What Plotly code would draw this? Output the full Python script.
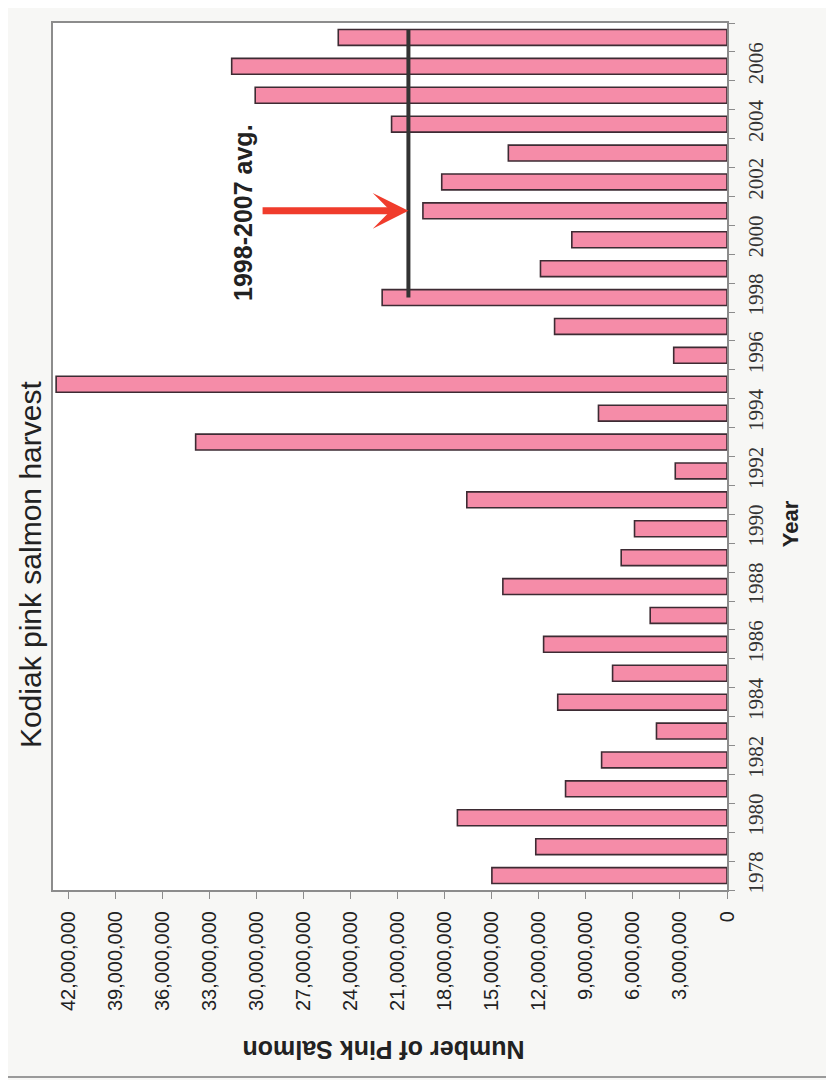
import plotly.graph_objects as go

years = list(range(1978, 2008))
harvest = [15.0e6, 12.2e6, 17.2e6, 10.3e6, 8.0e6, 4.5e6, 10.8e6, 7.3e6, 11.7e6, 4.9e6,
           14.3e6, 6.75e6, 5.9e6, 16.6e6, 3.3e6, 33.9e6, 8.2e6, 42.8e6, 3.4e6, 11.0e6,
           22.0e6, 11.9e6, 9.9e6, 19.4e6, 18.2e6, 13.95e6, 21.4e6, 30.1e6, 31.6e6, 24.8e6]
value_ticks = list(range(0, 42000001, 3000000))
year_ticks = list(range(1978, 2007, 2))
avg_years = [y for y in years if 1998 <= y <= 2007]
avg_value = sum(v for y, v in zip(years, harvest) if 1998 <= y <= 2007) / len(avg_years)

fig = go.Figure()
fig.add_trace(go.Bar(
    y=years, x=harvest, orientation='h', width=0.55,
    marker=dict(color='#F58CA8', line=dict(color='#3d2b33', width=1.6)),
    showlegend=False,
))

fig.update_layout(
    width=834, height=1080,
    margin=dict(l=45, r=115, t=15, b=198),
    paper_bgcolor='#F7F7F5', plot_bgcolor='#FFFFFF',
    font=dict(family='Liberation Sans, Arial', color='#222222'),
)
fig.update_xaxes(
    range=[43000000, 0], tickvals=value_ticks, tickformat=',', tickangle=-90,
    tickfont=dict(size=20, family='Liberation Sans, Arial', color='#222'),
    showline=True, linecolor='#8c8c8c', linewidth=2, mirror=True,
    ticks='outside', ticklen=7, tickcolor='#8c8c8c', ticklabelstandoff=4,
    showgrid=False, zeroline=False,
)
fig.update_yaxes(
    side='right', range=[1977.5, 2007.5], tickvals=year_ticks, tickangle=-90,
    tickfont=dict(size=21, family='Liberation Serif, Times New Roman', color='#333'),
    showline=True, linecolor='#8c8c8c', linewidth=2, mirror=True,
    ticks='', ticklabelstandoff=9, showgrid=False, zeroline=False,
    minor=dict(tick0=1977.5, dtick=1, ticks='outside', ticklen=6, tickcolor='#8c8c8c'),
)

# average line
fig.add_shape(type='line', xref='x', yref='y', x0=avg_value, x1=avg_value,
              y0=avg_years[0], y1=avg_years[-1] + 0.27,
              line=dict(color='#333333', width=4))

# red arrow
fig.add_annotation(x=avg_value, y=2001, xref='x', yref='y',
                   ax=avg_value + 9.4e6, ay=2001, axref='x', ayref='y',
                   showarrow=True, arrowhead=3, arrowsize=0.85, arrowwidth=7,
                   arrowcolor='#F03C2C', text='', standoff=0)

fig.add_annotation(text='<b>1998-2007 avg.</b>', xref='paper', yref='paper', x=0.282, y=0.781,
                   showarrow=False, textangle=-90,
                   font=dict(size=25, family='Liberation Sans, Arial', color='#222'),
                   xanchor='center', yanchor='middle')
fig.add_annotation(text='Kodiak pink salmon harvest', xref='paper', yref='paper',
                   x=-0.034, y=0.376, showarrow=False, textangle=-90,
                   font=dict(size=30, family='Liberation Sans, Arial', color='#222'),
                   xanchor='center', yanchor='middle')
fig.add_annotation(text='<b>Year</b>', xref='paper', yref='paper',
                   x=1.0935, y=0.422, showarrow=False, textangle=-90,
                   font=dict(size=22, family='Liberation Sans, Arial', color='#222'),
                   xanchor='center', yanchor='middle')
fig.add_annotation(text='<b>Number of Pink Salmon</b>', xref='paper', yref='paper',
                   x=0.49, y=-0.1845, showarrow=False, textangle=180,
                   font=dict(size=25, family='Liberation Sans, Arial', color='#222'),
                   xanchor='center', yanchor='middle')

# outer image frame
fig.add_shape(type='rect', xref='paper', yref='paper', x0=-0.081, x1=1.1528,
              y0=-0.2157, y1=1.0242, line=dict(color='#9a9a9a', width=2), layer='below')

fig.write_html('out.html')
